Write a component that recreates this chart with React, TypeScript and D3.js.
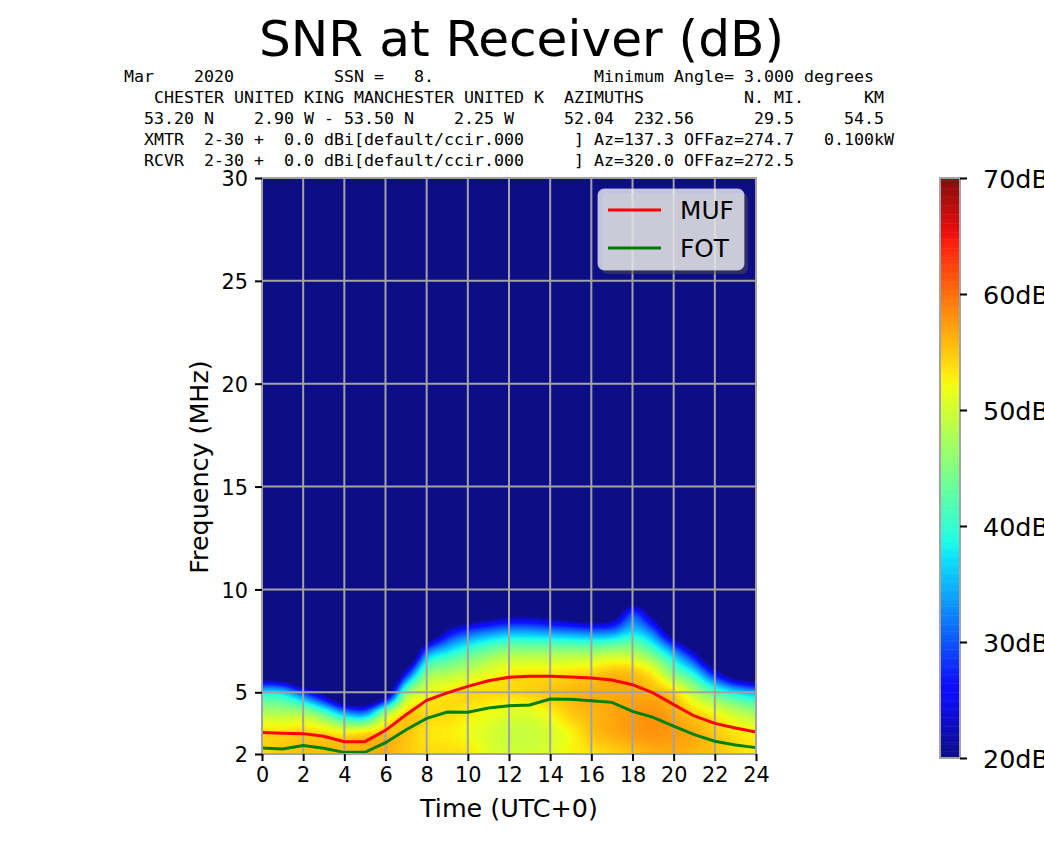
import React, { useEffect, useRef } from 'react';
import * as d3 from 'd3';

// header printed above the plot, one string per line (monospace columns)
const headerLines = [
  'Mar    2020          SSN =   8.                Minimum Angle= 3.000 degrees',
  '   CHESTER UNITED KING MANCHESTER UNITED K  AZIMUTHS          N. MI.      KM',
  '  53.20 N    2.90 W - 53.50 N    2.25 W     52.04  232.56      29.5     54.5',
  '  XMTR  2-30 +  0.0 dBi[default/ccir.000     ] Az=137.3 OFFaz=274.7   0.100kW',
  '  RCVR  2-30 +  0.0 dBi[default/ccir.000     ] Az=320.0 OFFaz=272.5',
];

const hours = d3.range(0, 25);
const xTicks = d3.range(0, 25, 2);
const yTicks = [2, 5, 10, 15, 20, 25, 30];
const dbTicks = [20, 30, 40, 50, 60, 70];

const muf = [3.05, 3.01, 2.99, 2.86, 2.6, 2.6, 3.15, 3.91, 4.61, 4.97, 5.29, 5.56, 5.73, 5.78, 5.78, 5.74, 5.69, 5.6, 5.37, 4.97, 4.4, 3.85, 3.49, 3.26, 3.07];
const fot = [2.29, 2.24, 2.41, 2.28, 2.08, 2.08, 2.55, 3.18, 3.73, 4.04, 4.03, 4.24, 4.35, 4.38, 4.67, 4.66, 4.59, 4.51, 4.07, 3.78, 3.35, 2.94, 2.62, 2.44, 2.31];

// SNR in dB per hour, one list per frequency
const snrFreqs = [2, 3, 4, 5, 6, 7, 8, 9, 10];
const snr2 = [54, 55, 55.5, 55.8, 56, 56, 56.6, 55, 54, 54, 53.5, 51, 50, 50, 51, 52.5, 53.5, 54.5, 55.5, 56.5, 56.6, 56, 55.3, 54, 53];
const snr3 = [54, 54, 54.5, 54, 53, 54, 55.3, 55.3, 53.5, 53, 52, 50.5, 49.5, 49.5, 50.5, 52.5, 55.3, 56.6, 57.5, 58, 57.5, 56.6, 55, 53.5, 52.5];
const snr4 = [48, 47.5, 47, 42, 34, 32, 46, 54, 54, 54, 53, 52, 51, 51, 52.5, 55, 56, 56.9, 57.5, 58, 56.6, 54.5, 52, 49, 47];
const snr5 = [37, 36, 28, 18, 6, 3, 15, 44, 51, 53, 54, 54, 54, 54.5, 55.2, 55.8, 56.4, 56.6, 56.6, 56, 54, 48, 42, 37, 34];
const snr6 = [11, 8, 0, 0, 0, 0, 0, 24, 44, 47, 49, 51, 52.5, 53, 53, 53.5, 54, 55.3, 55, 52, 44, 37, 24, 13, 9];
const snr7 = [0, 0, 0, 0, 0, 0, 0, 4, 30, 37, 41, 44, 46, 46, 46, 46, 46, 47, 47, 42, 33, 21, 4, 0, 0];
const snr8 = [0, 0, 0, 0, 0, 0, 0, 0, 8, 22, 28, 31, 33, 33, 32, 31, 30, 31, 36, 30, 14, 1, 0, 0, 0];
const snr9 = [0, 0, 0, 0, 0, 0, 0, 0, 0, 2, 8, 12, 15, 15, 13, 10, 7, 11, 26, 15, 0, 0, 0, 0, 0];
const snr10 = [0, 0, 0, 0, 0, 0, 0, 0, 0, 0, 0, 0, 0, 0, 0, 0, 0, 0, 0, 0, 0, 0, 0, 0, 0];
const snrRows = [snr2, snr3, snr4, snr5, snr6, snr7, snr8, snr9, snr10];

// jet colormap break points
const red = d3.scaleLinear([0, 0.35, 0.66, 0.89, 1], [0, 0, 255, 255, 127.5]);
const green = d3.scaleLinear([0, 0.125, 0.375, 0.64, 0.91, 1], [0, 0, 255, 255, 0, 0]);
const blue = d3.scaleLinear([0, 0.11, 0.34, 0.65, 1], [127.5, 255, 255, 0, 0]);

const left = 262;
const right = 756;
const top = 178;
const bottom = 754;
const font = '"DejaVu Sans"';
const gridColor = '#a3a3a3';
const alpha = 0.95;

// jet over white, as the alpha in the original does
const onWhite = (c: number) => Math.round(c * alpha + 255 * (1 - alpha));

const cubic = (a: number, b: number, c: number, d: number, t: number) =>
  b + 0.5 * t * (c - a + t * (2 * a - 5 * b + 4 * c - d + t * (3 * (b - c) + d - a)));

// Catmull-Rom lookup, only used to smooth the picture like imshow does
const lookup = (h: number, f: number) => {
  const hi = Math.min(Math.floor(h), hours.length - 2);
  const fi = Math.min(Math.floor(f - snrFreqs[0]), snrFreqs.length - 2);
  const col = (r: number) => {
    const row = snrRows[Math.max(0, Math.min(snrRows.length - 1, r))];
    const at = (i: number) => row[Math.max(0, Math.min(row.length - 1, i))];
    return cubic(at(hi - 1), at(hi), at(hi + 1), at(hi + 2), h - hi);
  };
  return cubic(col(fi - 1), col(fi), col(fi + 1), col(fi + 2), f - snrFreqs[0] - fi);
};

export default () => {
  const svgRef = useRef<SVGSVGElement>(null);

  useEffect(() => {
    if (!svgRef.current) {
      return;
    }
    const svg = d3.select(svgRef.current);
    svg.selectAll('*').remove();

    const x = d3.scaleLinear([0, 24], [left, right]);
    const y = d3.scaleLinear([2, 30], [bottom, top]);
    const db = d3.scaleLinear([20, 70], [758, 178]);
    const norm = d3.scaleLinear([20, 70], [0, 1]).clamp(true);

    // heatmap
    const w = right - left;
    const h = bottom - top;
    const canvas = document.createElement('canvas');
    canvas.width = w;
    canvas.height = h;
    const ctx = canvas.getContext('2d')!;
    const img = ctx.createImageData(w, h);
    for (let j = 0; j < h; j++) {
      const f = y.invert(top + j + 0.5);
      for (let i = 0; i < w; i++) {
        const v = f >= 10 ? 0 : lookup(x.invert(left + i + 0.5), f);
        const t = norm(v);
        const k = (j * w + i) * 4;
        img.data[k] = onWhite(red(t));
        img.data[k + 1] = onWhite(green(t));
        img.data[k + 2] = onWhite(blue(t));
        img.data[k + 3] = 255;
      }
    }
    ctx.putImageData(img, 0, 0);
    svg.append('image')
      .attr('x', left).attr('y', top)
      .attr('width', w).attr('height', h)
      .attr('href', canvas.toDataURL());

    // grid
    svg.append('g').selectAll('line').data(xTicks).enter().append('line')
      .attr('x1', d => x(d)).attr('x2', d => x(d))
      .attr('y1', top).attr('y2', bottom)
      .attr('stroke', gridColor).attr('stroke-width', 2);
    svg.append('g').selectAll('line').data(yTicks).enter().append('line')
      .attr('y1', d => y(d)).attr('y2', d => y(d))
      .attr('x1', left).attr('x2', right)
      .attr('stroke', gridColor).attr('stroke-width', 2);

    // MUF / FOT
    const line = d3.line<number>().x((_, i) => x(hours[i])).y(d => y(d));
    svg.append('path').attr('d', line(muf)).attr('fill', 'none').attr('stroke', '#ff0000').attr('stroke-width', 3);
    svg.append('path').attr('d', line(fot)).attr('fill', 'none').attr('stroke', '#008000').attr('stroke-width', 3);

    // spines
    svg.append('rect')
      .attr('x', left).attr('y', top).attr('width', w).attr('height', h)
      .attr('fill', 'none').attr('stroke', gridColor).attr('stroke-width', 2);

    // axes
    const xAxis = svg.append('g').attr('transform', `translate(0,${bottom})`)
      .call(d3.axisBottom(x).tickValues(xTicks).tickSize(7).tickPadding(6));
    const yAxis = svg.append('g').attr('transform', `translate(${left},0)`)
      .call(d3.axisLeft(y).tickValues(yTicks).tickSize(7).tickPadding(7));
    [xAxis, yAxis].forEach(a => {
      a.select('.domain').remove();
      a.selectAll('line').attr('stroke', '#000').attr('stroke-width', 2);
      a.selectAll('text').attr('font-family', font).attr('font-size', 20.8).attr('fill', '#000');
    });
    yAxis.selectAll('text').attr('transform', 'translate(0,1)');

    svg.append('text')
      .attr('x', (left + right) / 2).attr('y', 817)
      .attr('text-anchor', 'middle').attr('font-family', font).attr('font-size', 25.4)
      .text('Time (UTC+0)');
    svg.append('text')
      .attr('transform', 'translate(208,467) rotate(-90)')
      .attr('text-anchor', 'middle').attr('font-family', font).attr('font-size', 25.4)
      .text('Frequency (MHz)');

    // title and header
    svg.append('text')
      .attr('x', 521.5).attr('y', 56)
      .attr('text-anchor', 'middle').attr('font-family', font).attr('font-size', 50.2)
      .text('SNR at Receiver (dB)');
    svg.append('g').selectAll('text').data(headerLines).enter().append('text')
      .attr('x', 124).attr('y', (_, i) => 82 + i * 20.9)
      .attr('font-family', '"DejaVu Sans Mono"').attr('font-size', 16.61)
      .style('white-space', 'pre')
      .text(d => d);

    // legend
    const legend = svg.append('g');
    legend.append('rect')
      .attr('x', 602).attr('y', 193).attr('width', 146).attr('height', 81).attr('rx', 6)
      .attr('fill', '#4d4d4d').attr('fill-opacity', 0.5);
    legend.append('rect')
      .attr('x', 598).attr('y', 189).attr('width', 146).attr('height', 81).attr('rx', 6)
      .attr('fill', '#fff').attr('fill-opacity', 0.75).attr('stroke', '#ccc').attr('stroke-opacity', 0.8);
    const legendItems: [string, string, number][] = [['MUF', '#ff0000', 210], ['FOT', '#008000', 248]];
    legendItems.forEach(([name, color, ly]) => {
      legend.append('line').attr('x1', 608).attr('x2', 661).attr('y1', ly).attr('y2', ly)
        .attr('stroke', color).attr('stroke-width', 3);
      legend.append('text').attr('x', 680).attr('y', ly + 9)
        .attr('font-family', font).attr('font-size', 24.8).text(name);
    });

    // colorbar
    const steps = d3.range(256);
    const bandH = (db(20) - db(70)) / 256;
    svg.append('g').selectAll('rect').data(steps).enter().append('rect')
      .attr('x', 940).attr('width', 20)
      .attr('y', d => db(20 + (d + 1) * 50 / 256))
      .attr('height', bandH + 0.5)
      .attr('fill', d => `rgb(${onWhite(red(d / 255))},${onWhite(green(d / 255))},${onWhite(blue(d / 255))})`);
    svg.append('rect')
      .attr('x', 940).attr('y', 178).attr('width', 20).attr('height', 580)
      .attr('fill', 'none').attr('stroke', gridColor).attr('stroke-width', 2);
    const cAxis = svg.append('g').attr('transform', 'translate(960,0)')
      .call(d3.axisRight(db).tickValues(dbTicks).tickFormat(d => `${d}dB`).tickSize(7).tickPadding(16));
    cAxis.select('.domain').remove();
    cAxis.selectAll('line').attr('stroke', '#000').attr('stroke-width', 2);
    cAxis.selectAll('text').attr('font-family', font).attr('font-size', 25.4).attr('fill', '#000').attr('transform', 'translate(0,1)');
  }, []);

  return (
    <svg
      ref={svgRef}
      width={1044}
      height={847}
      style={{ position: 'absolute', left: 0, top: 0, background: '#fff' }}
    />
  );
};
